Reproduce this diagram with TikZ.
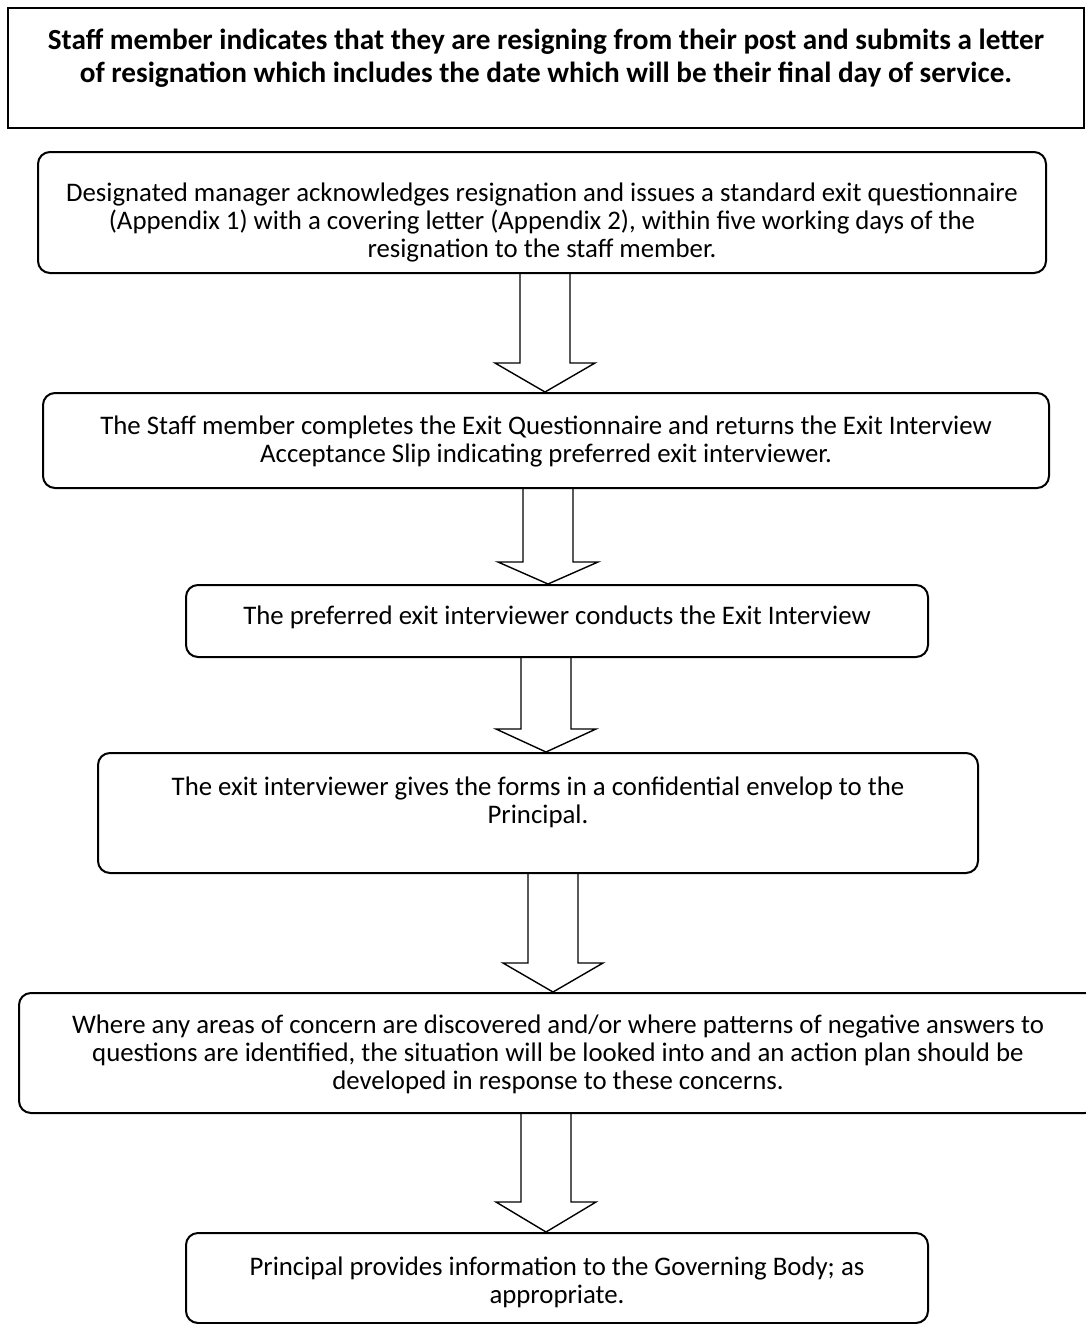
\documentclass[tikz,border=0pt]{standalone}
\usepackage{fontspec}
\setmainfont{Carlito}
\usetikzlibrary{calc}
% hollow block arrow: from node, to node, x of its axis, head length
\newcommand{\hollowarrow}[4]{%
  \coordinate (base) at (#1.south -| #3,0);
  \coordinate (tip) at (#2.north -| #3,0);
  \draw[shaft] ($(base)+(-25,0)$) -- ($(tip)+(-25,-#4)$) -- ($(tip)+(-50,-#4)$)
    -- (tip) -- ($(tip)+(50,-#4)$) -- ($(tip)+(25,-#4)$) -- ($(base)+(25,0)$);}

\begin{document}
\begin{tikzpicture}[x=.5pt,y=-.5pt,
  stagebox/.style={draw, line width=1pt, rounded corners=6pt, align=flush center,
    inner sep=0pt, font=\fontsize{13.4pt}{14pt}\selectfont},
  shaft/.style={line width=.7pt, line join=miter}]
\useasboundingbox (0,0) rectangle (1086,1324);
%notice of resignation
\node[draw, line width=1.2pt, minimum width=538pt, align=flush center, text width=535pt,
  inner sep=0pt, text height=20.5pt, text depth=39.5pt,
  font=\bfseries\fontsize{14.6pt}{16.5pt}\selectfont]
  (notice) at (546,68) {Staff member indicates that they are resigning from their post and submits a letter\\
  of resignation which includes the date which will be their final day of service.};
%steps
\node[stagebox, minimum width=504pt, text width=500pt, text height=24.5pt, text depth=36pt]
  (ack) at (542,212.5) {Designated manager acknowledges resignation and issues a standard exit questionnaire\\
  (Appendix 1) with a covering letter (Appendix 2), within five working days of the\\
  resignation to the staff member.};
\node[stagebox, minimum width=503pt, text width=495pt, text height=20.5pt, text depth=27pt]
  (reply) at (546,440.5) {The Staff member completes the Exit Questionnaire and returns the Exit Interview\\
  Acceptance Slip indicating preferred exit interviewer.};
\node[stagebox, minimum width=371pt, text width=365pt, text height=19.5pt, text depth=16.5pt]
  (meet) at (557,621) {The preferred exit interviewer conducts the Exit Interview};
\node[stagebox, minimum width=440pt, text width=430pt, text height=21pt, text depth=39pt]
  (hand) at (538,813) {The exit interviewer gives the forms in a confidential envelop to the\\
  Principal.};
\node[stagebox, minimum width=539pt, text width=535pt, text height=20pt, text depth=40pt]
  (review) at (558,1053) {Where any areas of concern are discovered and/or where patterns of negative answers to\\
  questions are identified, the situation will be looked into and an action plan should be\\
  developed in response to these concerns.};
\node[stagebox, minimum width=371pt, text width=365pt, text height=21pt, text depth=24pt]
  (report) at (557,1278) {Principal provides information to the Governing Body; as\\
  appropriate.};
%block arrows
\hollowarrow{ack}{reply}{545}{29}
\hollowarrow{reply}{meet}{548}{22}
\hollowarrow{meet}{hand}{546}{23}
\hollowarrow{hand}{review}{553}{29}
\hollowarrow{review}{report}{546}{30}
\end{tikzpicture}
\end{document}
